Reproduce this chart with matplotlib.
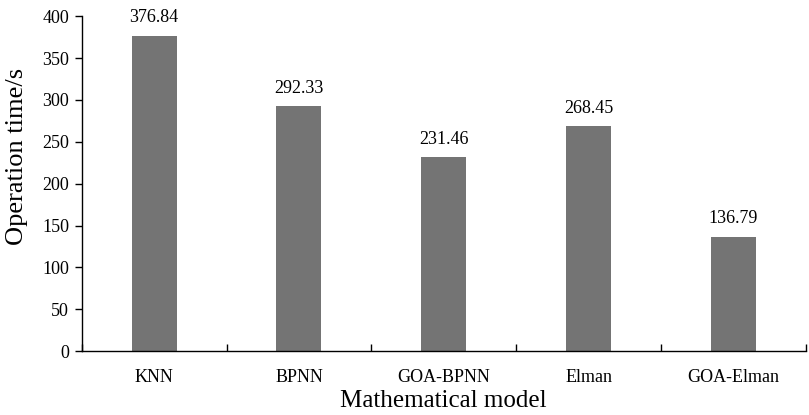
import matplotlib
matplotlib.use("Agg")
import matplotlib.pyplot as plt
import numpy as np

categories = ["KNN", "BPNN", "GOA-BPNN", "Elman", "GOA-Elman"]
values = [376.84, 292.33, 231.46, 268.45, 136.79]
yticks = [0, 50, 100, 150, 200, 250, 300, 350, 400]

plt.rcParams['font.family'] = ['Liberation Serif', 'DejaVu Serif']

fig = plt.figure(figsize=(8.09, 4.15), dpi=100)
ax = fig.add_axes([0.101, 0.154, 0.895, 0.807])

x = np.arange(len(categories))
ax.bar(x, values, width=0.31, color='#747474')
for xi, v in zip(x, values):
    ax.text(xi, v + 11, f"{v:.2f}", ha='center', va='bottom', fontsize=13)

ax.set_xlim(-0.5, len(categories) - 0.5)
ax.set_ylim(0, 400)
ax.set_yticks(yticks)
ax.set_xticks(x)
ax.set_xticklabels(categories, fontsize=13)
ax.tick_params(axis='x', which='major', length=0, pad=13)
ax.set_xticks(np.arange(-0.5, len(categories)), minor=True)
ax.tick_params(axis='x', which='minor', direction='in', length=5, width=1)
ax.tick_params(axis='y', direction='out', length=5, width=1, labelsize=13, pad=4)

for s in ['top', 'right']:
    ax.spines[s].set_visible(False)
ax.spines['left'].set_linewidth(1)
ax.spines['bottom'].set_linewidth(1)

ax.set_xlabel("Mathematical model", fontsize=18, labelpad=3)
ax.set_ylabel("Operation time/s", fontsize=19)
ax.yaxis.set_label_coords(-0.074, 0.582)

fig.savefig("out.png", dpi=100)
